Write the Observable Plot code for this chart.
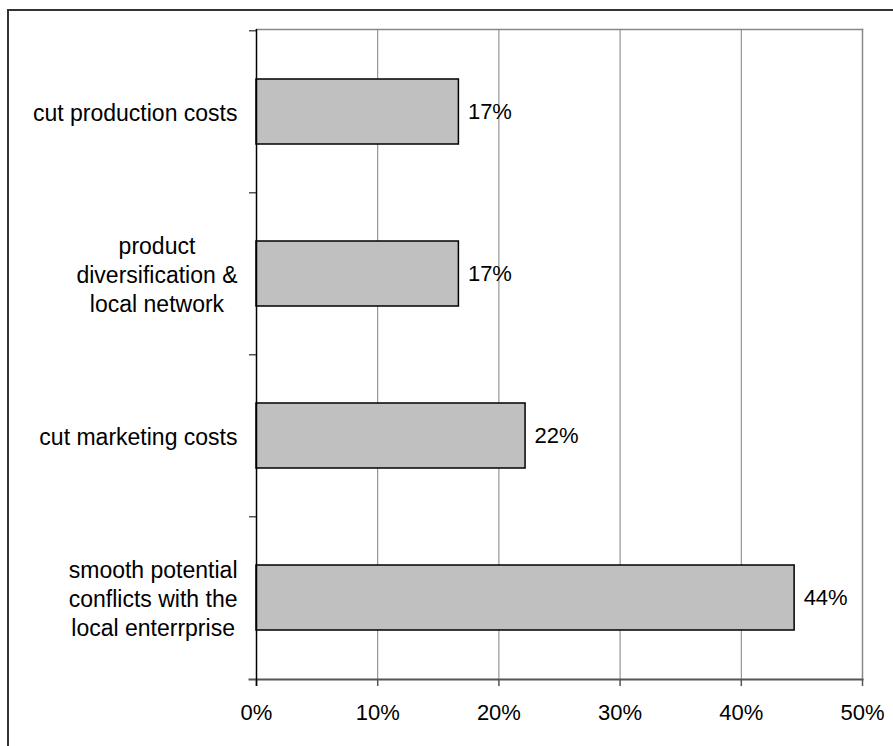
<!DOCTYPE html>
<html>
<head>
<meta charset="utf-8">
<script src="https://cdn.jsdelivr.net/npm/d3@7"></script>
<script src="https://cdn.jsdelivr.net/npm/@observablehq/plot@0.6"></script>
<style>
  html, body { margin: 0; padding: 0; background: #fff; overflow: hidden; }
  #wrap { position: relative; width: 893px; height: 746px; }
  #border { position: absolute; left: 7px; top: 9px; width: 1000px; height: 1000px;
            border-left: 2px solid #333; border-top: 2px solid #333; }
  #chart { position: absolute; left: 0; top: 0; }
</style>
</head>
<body>
<div id="wrap"><div id="border"></div><div id="chart"></div></div>
<script>
const categories = [
  "cut production costs",
  "product\ndiversification &\nlocal network",
  "cut marketing costs",
  "smooth potential\nconflicts with the\nlocal enterrprise"
];
const values = [16.7, 16.7, 22.2, 44.4];
const xTicks = [0, 10, 20, 30, 40, 50];

const data = categories.map((c, i) => ({cat: c, v: values[i]}));

const FONT = '"Liberation Sans", Arial, sans-serif';
const fs = 22;
const lfs = 23;
const ctx = document.createElement("canvas").getContext("2d");
ctx.font = `${lfs}px "Liberation Sans"`;
const blockW = c => Math.max(...c.split("\n").map(l => ctx.measureText(l).width));

const step = 650 / categories.length;

const labelMarks = categories.map(c =>
  Plot.text([c], {
    y: d => d, text: d => d, frameAnchor: "left",
    dx: -19 - blockW(c) / 2, textAnchor: "middle", lineAnchor: "middle",
    lineHeight: 29 / lfs, fontSize: lfs, fill: "black"
  })
);

const chart = Plot.plot({
  width: 893, height: 746,
  marginLeft: 256, marginRight: 31, marginTop: 29, marginBottom: 67,
  style: {fontFamily: FONT, fontSize: fs + "px", background: "transparent", color: "black"},
  x: {domain: [0, 50], ticks: xTicks, tickFormat: d => d + "%", label: null},
  y: {domain: categories, paddingInner: 0.6, paddingOuter: 0.3, label: null},
  marks: [
    Plot.gridX(xTicks.slice(1, -1), {stroke: "#808080", strokeOpacity: 1, strokeWidth: 1}),
    Plot.frame({anchor: "top", stroke: "#888", strokeWidth: 1.5}),
    Plot.frame({anchor: "right", stroke: "#888", strokeWidth: 1.5}),
    Plot.barX(data, {x: "v", y: "cat", fill: "#c0c0c0", stroke: "black", strokeWidth: 1.5}),
    Plot.text(data, {x: "v", y: "cat", text: d => Math.round(d.v) + "%", dx: 9,
                     textAnchor: "start", fontSize: fs, fill: "black"}),
    Plot.axisX({ticks: xTicks, tickFormat: d => d + "%", tickSize: 7, tickPadding: 18,
                stroke: "#555", strokeWidth: 1.5, fontSize: fs, fill: "black", label: null}),
    Plot.axisY({text: null, tickSize: 7, dy: -step / 2, stroke: "#555", strokeWidth: 1.5, label: null}),
    Plot.frame({anchor: "bottom", stroke: "#555", strokeWidth: 2, insetLeft: -7}),
    Plot.ruleX([0], {stroke: "black", strokeWidth: 1.5, insetBottom: -7}),
    ...labelMarks
  ]
});
document.getElementById("chart").appendChild(chart);
</script>
</body>
</html>
